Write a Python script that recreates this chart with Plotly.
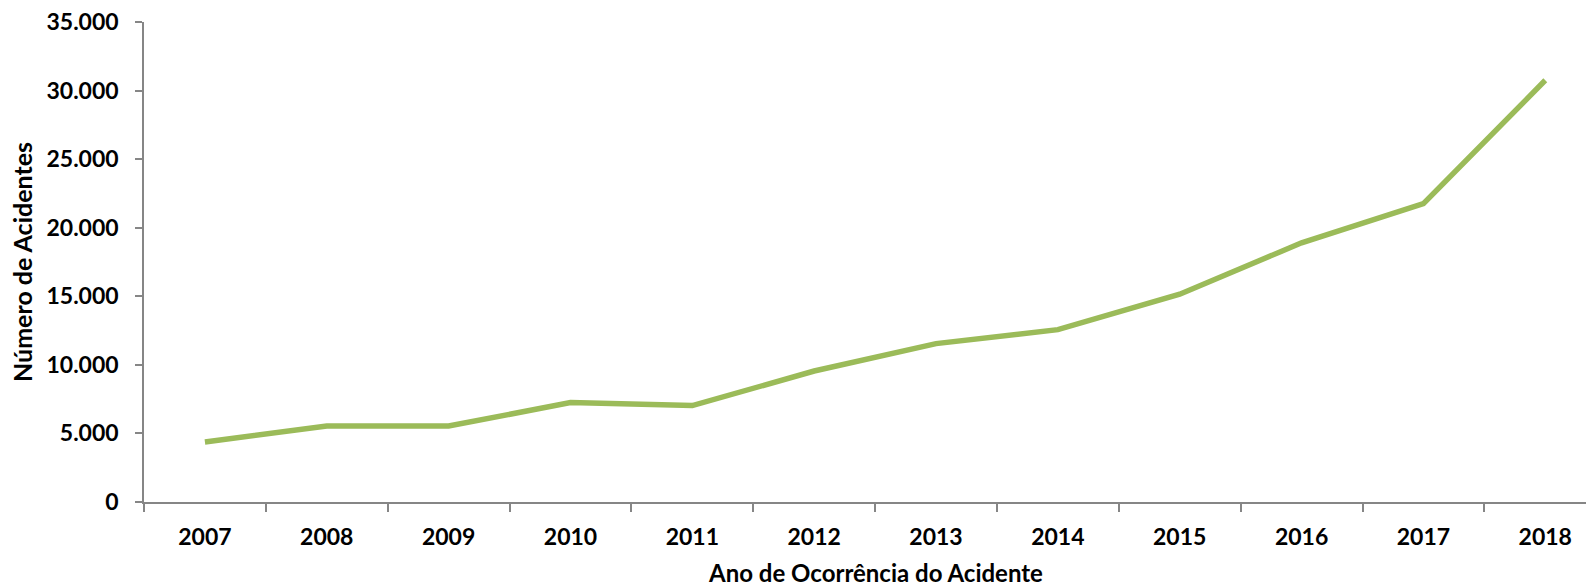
import plotly.graph_objects as go

years = ["2007", "2008", "2009", "2010", "2011", "2012", "2013", "2014", "2015", "2016", "2017", "2018"]
acidentes = [4380, 5540, 5540, 7250, 7030, 9550, 11550, 12570, 15150, 18900, 21750, 30750]
y_ticks = [0, 5000, 10000, 15000, 20000, 25000, 30000, 35000]

x_title = "Ano de Ocorrência do Acidente"
y_title = "Número de Acidentes"

FONT = "Lato"
AXIS_COLOR = "#868686"

fig = go.Figure()
fig.add_trace(go.Scatter(
    x=years, y=acidentes, mode="lines",
    line=dict(color="#9BBB59", width=5.5),
    showlegend=False, hoverinfo="x+y",
))

# page body has an 8px default margin, so the figure is offset by 8px
OFF = 8
W, H = 1594 - OFF, 587 - OFF
ml, mt = 144 - OFF, 22 - OFF
plot_h = 480
mb = H - mt - plot_h
plot_w = W - ml

fig.update_layout(
    width=W, height=H,
    margin=dict(l=ml, r=0, t=mt, b=mb),
    paper_bgcolor="white", plot_bgcolor="white",
    separators=",.",
    font=dict(family=FONT, color="black"),
    xaxis=dict(
        type="category",
        range=[-0.5, -0.5 + plot_w / 121.85],
        tickson="boundaries",
        ticks="outside", ticklen=8, tickwidth=1.5, tickcolor=AXIS_COLOR,
        showline=True, linecolor=AXIS_COLOR, linewidth=1.5,
        showgrid=False, zeroline=False,
        tickfont=dict(family=FONT, size=23, weight="bold", color="black"),
        ticklabelstandoff=14,
    ),
    yaxis=dict(
        range=[0, 35000],
        tickvals=y_ticks,
        tickformat=",",
        ticks="outside", ticklen=7, tickwidth=1.5, tickcolor=AXIS_COLOR,
        showline=True, linecolor=AXIS_COLOR, linewidth=1.5,
        showgrid=False, zeroline=False,
        tickfont=dict(family=FONT, size=23, weight="bold", color="black"),
        ticklabelstandoff=12,
        ticklabeloverflow="allow",
    ),
)

fig.add_annotation(
    text=x_title, xref="x", x=5.5, yref="paper", y=(502 - 572) / plot_h,
    xanchor="center", yanchor="middle", showarrow=False,
    font=dict(family=FONT, size=24, weight="bold", color="black"),
)
fig.add_annotation(
    text=y_title, xref="paper", x=(22 - 144) / plot_w, yref="paper", y=0.5,
    xanchor="center", yanchor="middle", textangle=-90, showarrow=False,
    font=dict(family=FONT, size=25, weight="bold", color="black"),
)

fig.write_html("out.html")
